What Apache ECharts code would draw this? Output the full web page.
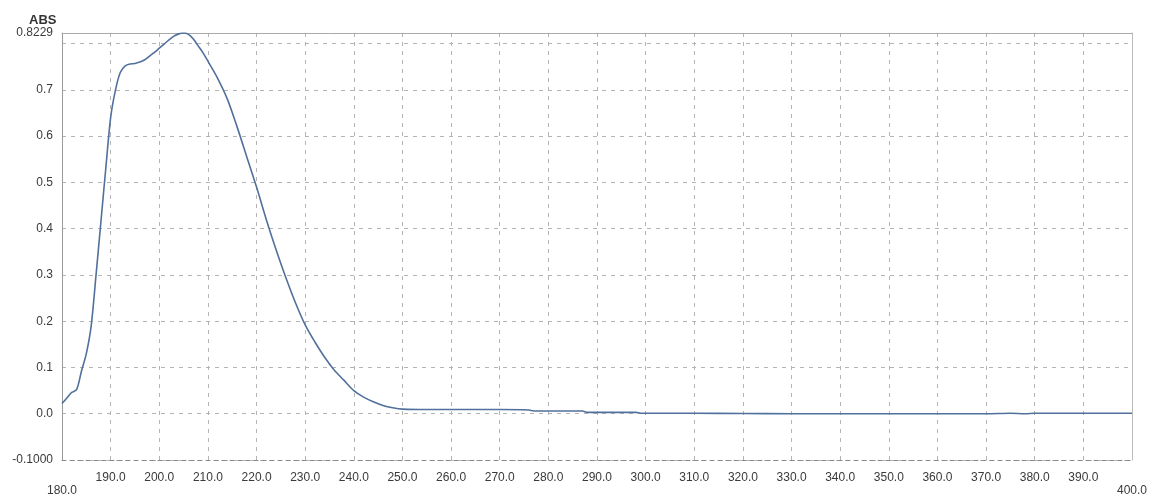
<!DOCTYPE html>
<html>
<head>
<meta charset="utf-8">
<script src="https://cdn.jsdelivr.net/npm/echarts@6/dist/echarts.min.js"></script>
<style>html,body{margin:0;padding:0;background:#fff}#c{width:1151px;height:501px}</style>
</head>
<body>
<div id="c"></div>
<script>
const wavelengths = [180,181,182,183,184,185,186,187,188,189,190,191,192,193,194,195,196,197,198,199,200,201,202,203,204,205,206,207,208,209,210,212,214,216,218,220,222,224,226,228,230,232,234,236,238,240,242,244,246,248,250,255,260,265,270,276,277,287,288,298,299,310,320,330,340,350,360,370,375,378,380,390,400];
const absorbance = [0.022,0.034,0.046,0.052,0.092,0.13,0.19,0.30,0.415,0.53,0.64,0.70,0.738,0.752,0.756,0.757,0.760,0.765,0.773,0.781,0.790,0.799,0.808,0.816,0.821,0.8229,0.820,0.810,0.795,0.780,0.762,0.725,0.680,0.620,0.555,0.490,0.420,0.355,0.295,0.240,0.192,0.155,0.122,0.094,0.072,0.050,0.036,0.026,0.018,0.013,0.010,0.009,0.009,0.009,0.009,0.008,0.006,0.006,0.003,0.003,0.001,0.001,0.0005,0.0,0.0,0.0,0.0,0.0,0.001,0.0,0.001,0.001,0.001];
const xMin = 180, xMax = 400, xStep = 10;
const yMin = -0.1, yMax = 0.8229, yStep = 0.1;
const yTitle = 'ABS';
const xUnit = 'nm';

const chart = echarts.init(document.getElementById('c'));
const gridColor = '#b4b4b4';
const labelColor = '#3a3a3a';
const fontFam = '"Liberation Sans", Arial, sans-serif';

chart.setOption({
  animation: false,
  backgroundColor: '#fff',
  title: {
    text: yTitle, left: 24, top: 9,
    textStyle: { fontSize: 13, fontWeight: 'bold', color: '#333', fontFamily: fontFam }
  },
  grid: { left: 62, right: 19, top: 33, bottom: 41, show: false, containLabel: false, outerBoundsMode: 'none' },
  xAxis: [{
    type: 'value', min: xMin, max: xMax, interval: xStep,
    axisLine: { show: true, onZero: false, lineStyle: { color: '#888', type: [4, 4], width: 1 } },
    axisTick: { show: false },
    splitLine: { show: true, lineStyle: { color: gridColor, type: [4, 5], width: 1 } },
    axisLabel: {
      color: labelColor, fontSize: 12, fontFamily: fontFam, margin: 12,
      formatter: function (v) {
        if (Math.abs(v - xMin) < 1e-6) return '{low|' + v.toFixed(1) + '}';
        if (Math.abs(v - xMax) < 1e-6) return '{low|' + v.toFixed(1) + '}\n{nm|' + xUnit + '}';
        return v.toFixed(1);
      },
      rich: {
        low: { padding: [13, 0, 0, 0], fontSize: 12, color: labelColor, fontFamily: fontFam },
        nm: { fontSize: 10, fontWeight: 'bold', color: labelColor, fontFamily: fontFam, lineHeight: 14 }
      }
    }
  }, {
    type: 'value', position: 'top', min: xMin, max: xMax,
    axisLine: { show: true, onZero: false, lineStyle: { color: '#aaa', width: 1 } },
    axisTick: { show: false }, axisLabel: { show: false }, splitLine: { show: false }
  }],
  yAxis: [{
    type: 'value', min: yMin, max: yMax, interval: yStep,
    axisLine: { show: true, onZero: false, lineStyle: { color: '#999', width: 1 } },
    axisTick: { show: false },
    splitLine: { show: true, lineStyle: { color: gridColor, type: [4, 5], width: 1 } },
    axisLabel: {
      color: labelColor, fontSize: 12, fontFamily: fontFam, margin: 9,
      formatter: function (v) {
        if (Math.abs(v - yMin) < 1e-6) return yMin.toFixed(4);
        if (Math.abs(v - yMax) < 1e-6) return yMax.toFixed(4);
        if (Math.abs(v - 0.8) < 1e-6) return '';
        return (Math.round(v * 10) / 10).toFixed(1);
      }
    }
  }, {
    type: 'value', position: 'right', min: yMin, max: yMax,
    axisLine: { show: true, onZero: false, lineStyle: { color: '#bbb', width: 1 } },
    axisTick: { show: false }, axisLabel: { show: false }, splitLine: { show: false }
  }],
  series: [{
    type: 'line',
    data: wavelengths.map((w, i) => [w, absorbance[i]]),
    smooth: 0.3,
    showSymbol: false,
    lineStyle: { color: '#51709c', width: 1.6 },
    z: 5
  }]
});
</script>
</body>
</html>
